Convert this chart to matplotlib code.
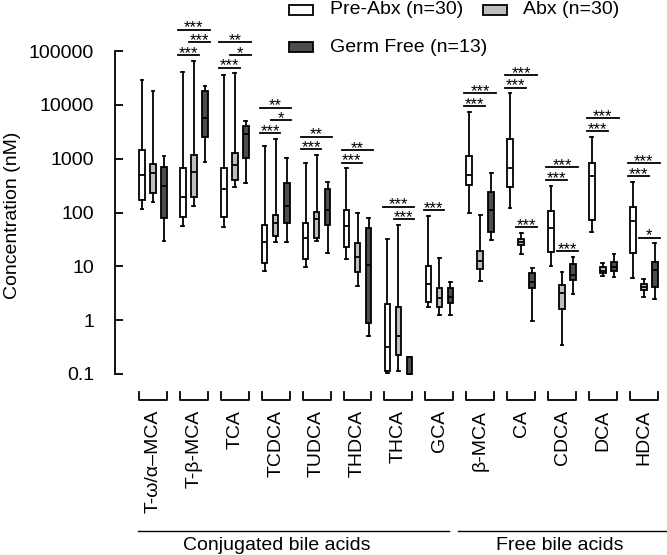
import matplotlib
matplotlib.use("Agg")
import matplotlib.pyplot as plt
import matplotlib.transforms as mtransforms
from matplotlib.patches import Rectangle

plt.rcParams["font.family"] = ["Liberation Sans", "DejaVu Sans"]

acids = ["T-\u03c9/\u03b1\u2013MCA", "T-\u03b2-MCA", "TCA", "TCDCA", "TUDCA", "THDCA",
         "THCA", "GCA", "\u03b2-MCA", "CA", "CDCA", "DCA", "HDCA"]
groups = ["Pre-Abx (n=30)", "Abx (n=30)", "Germ Free (n=13)"]
colors = ["white", "#BEBEBE", "#4D4D4D"]

# five-number summaries per acid: (whisker low, q1, median, q3, whisker high), nM
pre_abx = [(115, 171, 497, 1450, 28900), (57, 83.5, 196, 662, 40200),
           (54.5, 83.5, 270, 680, 35800), (8.3, 11.7, 27.9, 58.6, 1740),
           (9.6, 13.5, 34, 63, 841), (13.5, 22.5, 56, 111, 662),
           (0.103, 0.115, 0.32, 2.0, 32), (1.73, 2.2, 4.6, 10.1, 86),
           (97, 324, 497, 1120, 7450), (120, 301, 680, 2290, 16400),
           (10.3, 18.7, 51, 108, 315), (44, 72.5, 476, 820, 2560),
           (6.0, 17.5, 70, 128, 373)]
abx = [(155, 227, 535, 796, 18300), (134, 196, 565, 1170, 66000),
       (301, 401, 763, 1290, 38500), (28.7, 36.6, 64.6, 88.7, 2350),
       (29.5, 34, 75.7, 103.5, 1170), (4.36, 7.95, 15.1, 27.5, 96.6),
       (0.115, 0.225, 0.51, 1.78, 58.6), (1.23, 1.78, 2.61, 4.0, 14.3),
       (5.4, 8.8, 12.7, 19.3, 90), (16.9, 24.9, 28.7, 31.8, 42.2),
       (0.345, 1.63, 3.23, 4.44, 7.74), (6.6, 7.4, 8.3, 9.6, 11.7),
       (2.73, 3.63, 4.18, 4.7, 5.74)]
germ_free = [(30, 80, 311, 710, 1135), (855, 2560, 5620, 18300, 22400),
             (349, 1015, 2870, 4100, 5000), (28.7, 63, 134, 357, 1015),
             (17.9, 58.6, 111, 270, 373), (0.51, 0.9, 10.6, 52, 78),
             (0.1, 0.1, 0.1, 0.21, 0.21), (1.25, 2.06, 2.65, 4.0, 5.1),
             (30.8, 44, 111, 240, 535), (0.98, 3.9, 5.2, 7.4, 9.2),
             (3.06, 5.57, 6.9, 11.0, 15.1), (6.25, 8.2, 9.8, 12.2, 16.9),
             (2.44, 4.18, 8.55, 12.2, 26.8)]

# (acid index, from group, to group, label, stacking level)
comparisons = [
    (1, 0, 1, "***", 0), (1, 1, 2, "***", 1), (1, 0, 2, "***", 2),
    (2, 0, 1, "***", 0), (2, 1, 2, "*", 1), (2, 0, 2, "**", 2),
    (3, 0, 1, "***", 0), (3, 1, 2, "*", 1), (3, 0, 2, "**", 2),
    (4, 0, 1, "***", 0), (4, 0, 2, "**", 1),
    (5, 0, 1, "***", 0), (5, 0, 2, "**", 1),
    (6, 1, 2, "***", 0), (6, 0, 2, "***", 1),
    (7, 0, 1, "***", 0),
    (8, 0, 1, "***", 0), (8, 0, 2, "***", 1),
    (9, 0, 1, "***", 0), (9, 0, 2, "***", 1), (9, 1, 2, "***", 0),
    (10, 0, 1, "***", 0), (10, 0, 2, "***", 1), (10, 1, 2, "***", 0),
    (11, 0, 1, "***", 0), (11, 0, 2, "***", 1),
    (12, 0, 1, "***", 0), (12, 0, 2, "***", 1), (12, 1, 2, "*", 0),
]

# class name, line start/end (data x), label centre (data x)
classes = [("Conjugated bile acids", -0.37, 7.24, 3.03),
           ("Free bile acids", 7.46, 12.567, 9.95)]

yticks = [0.1, 1, 10, 100, 1000, 10000, 100000]
ytick_labels = ["0.1", "1", "10", "100", "1000", "10000", "100000"]

W, H = 667, 555
LW = 1.3
OFFSETS = [-0.27, 0.0, 0.27]

fig = plt.figure(figsize=(W / 100, H / 100), dpi=100)
ax = fig.add_axes([115 / W, (H - 374) / H, 552 / W, 323 / H])
ax.set_yscale("log")
ax.set_ylim(0.1, 1e5)
ax.set_xlim(-0.929, 12.567)

series = [pre_abx, abx, germ_free]
for k, (data, color) in enumerate(zip(series, colors)):
    stats = [dict(whislo=s[0], q1=s[1], med=s[2], q3=s[3], whishi=s[4]) for s in data]
    pos = [i + OFFSETS[k] for i in range(len(data))]
    art = ax.bxp(stats, positions=pos, widths=0.135, patch_artist=True,
                 showfliers=False, manage_ticks=False, capwidths=0.07,
                 boxprops=dict(facecolor=color, edgecolor="black", linewidth=LW),
                 whiskerprops=dict(color="black", linewidth=LW),
                 capprops=dict(color="black", linewidth=LW),
                 medianprops=dict(color="black", linewidth=LW))
    for items in art.values():
        for a in items:
            a.set_clip_on(False)

# significance bars
for acid, i, j, label, level in comparisons:
    top = max(series[k][acid][4] for k in range(i, j + 1))
    y = top * 10 ** (0.106 + 0.235 * level)
    x0 = acid + OFFSETS[i] - 0.115
    x1 = acid + OFFSETS[j] + 0.115
    ax.plot([x0, x1], [y, y], color="black", lw=LW, clip_on=False)
    ax.annotate(label, ((x0 + x1) / 2, y), xytext=(0, -2), textcoords="offset points",
                ha="center", va="baseline", fontsize=12, annotation_clip=False)

# per-acid brackets under the plot
trans = mtransforms.blended_transform_factory(ax.transData, ax.transAxes)
for i in range(len(acids)):
    ax.plot([i - 0.34, i - 0.34, i + 0.34, i + 0.34], [-0.056, -0.0805, -0.0805, -0.056],
            color="black", lw=LW, transform=trans, clip_on=False)

ax.set_xticks(range(len(acids)))
ax.set_xticklabels(acids, rotation=90, va="top", ha="center", fontsize=14)
ax.tick_params(axis="x", length=0, pad=26)

ax.set_yticks(yticks)
ax.set_yticklabels(ytick_labels, fontsize=14)
ax.yaxis.set_minor_locator(matplotlib.ticker.NullLocator())
ax.tick_params(axis="y", direction="in", length=5.4, width=LW, pad=15)
ax.set_ylabel("Concentration (nM)", fontsize=14)
ax.yaxis.set_label_coords(-0.17, 0.49)

for side in ["top", "right", "bottom"]:
    ax.spines[side].set_visible(False)
ax.spines["left"].set_linewidth(LW)

# bile acid class lines
for name, x0, x1, xc in classes:
    ax.plot([x0, x1], [-0.486, -0.486], color="black", lw=1.0, transform=trans, clip_on=False)
    ax.text(xc, -0.545, name, transform=trans, ha="center", va="baseline", fontsize=14)

# legend drawn by hand in pixel space
legend_rows = [(0, 289, 330, 10), (1, 483, 523, 10), (2, 289, 330, 47)]
for k, bx, tx, cy in legend_rows:
    fig.patches.append(Rectangle((bx / W, 1 - (cy + 5) / H), 24 / W, 10 / H,
                                 transform=fig.transFigure, facecolor=colors[k],
                                 edgecolor="black", linewidth=LW))
    fig.text(tx / W, 1 - cy / H, groups[k], ha="left", va="center", fontsize=14)

fig.savefig("out.png", dpi=100)
